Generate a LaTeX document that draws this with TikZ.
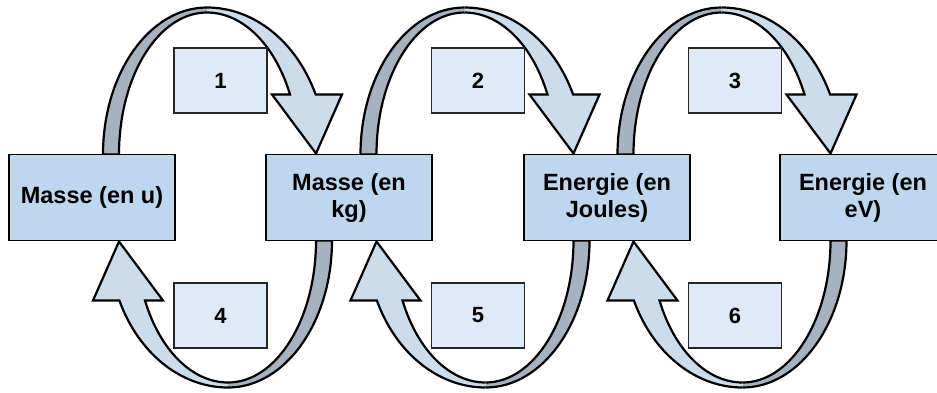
\documentclass[tikz,border=0pt]{standalone}
\usepackage{fontspec}
\setmainfont{Liberation Sans}
\usetikzlibrary{positioning, calc}

\definecolor{boxblue}{RGB}{190,214,238}
\definecolor{stepblue}{RGB}{222,234,247}
\definecolor{arrowlight}{RGB}{204,220,234}
\definecolor{arrowdark}{RGB}{166,178,190}

\pgfdeclarelayer{background}
\pgfsetlayers{background,main}

\begin{document}
\begin{tikzpicture}[
        x=1pt, y=1pt,
        bigbox/.style={draw, rectangle, line width=1.5pt, outer sep=0pt, fill=boxblue, align=center, minimum width=166pt, minimum height=86pt, font=\bfseries\fontsize{23.5}{27}\selectfont},
        stepbox/.style={draw=black!85, rectangle, line width=1.2pt, fill=stepblue, minimum width=93pt, minimum height=65pt, font=\bfseries\fontsize{22}{26}\selectfont},
        curved/.pic={
            % front face with head (seam at the top left open)
            \filldraw[fill=arrowlight, line width=2.2pt] (-13.5,147) arc[start angle=90, end angle=24.1, x radius=119, y radius=147]
                -- (121.5,60) -- (95.5,1) -- (51.5,60) -- (69.5,60)
                arc[start angle=25, end angle=90, x radius=91.6, y radius=142];
            % back face
            \filldraw[fill=arrowdark, line width=2.2pt] (-13.5,147) arc[start angle=90, end angle=180, x radius=104, y radius=147]
                -- (-101.5,0) arc[start angle=180, end angle=90, x radius=88, y radius=142];
        }
    ]
    \useasboundingbox (0,0) rectangle (937,-392);

    \node[bigbox] (mu) at (92,-197.5) {Masse (en u)};
    \node[bigbox, right=91pt of mu] (mkg) {Masse (en\\kg)};
    \node[bigbox, right=92pt of mkg] (ej) {Energie (en\\Joules)};
    \node[bigbox, right=90pt of ej] (eev) {Energie (en\\eV)};

    \coordinate (t1) at ($(mu.north east)!.5!(mkg.north west)$);
    \coordinate (t2) at ($(mkg.north east)!.5!(ej.north west)$);
    \coordinate (t3) at ($(ej.north east)!.5!(eev.north west)$);
    \coordinate (b1) at ($(mu.south east)!.5!(mkg.south west)$);
    \coordinate (b2) at ($(mkg.south east)!.5!(ej.south west)$);
    \coordinate (b3) at ($(ej.south east)!.5!(eev.south west)$);

    \node[stepbox] (s1) at ($(t1)+(0,74)$) {1};
    \node[stepbox] (s2) at ($(t2)+(0,74)$) {2};
    \node[stepbox] (s3) at ($(t3)+(0,74)$) {3};
    \node[stepbox] (s4) at ($(b1)+(0,-75)$) {4};
    \node[stepbox] (s5) at ($(b2)+(0,-75)$) {5};
    \node[stepbox] (s6) at ($(b3)+(0,-75)$) {6};

    \begin{pgfonlayer}{background}
    \foreach \g in {1,2,3} {
        \pic at (t\g) {curved};
        \pic[rotate=180] at ($(b\g)+(-6,0)$) {curved};
    }
    \end{pgfonlayer}
\end{tikzpicture}
\end{document}
